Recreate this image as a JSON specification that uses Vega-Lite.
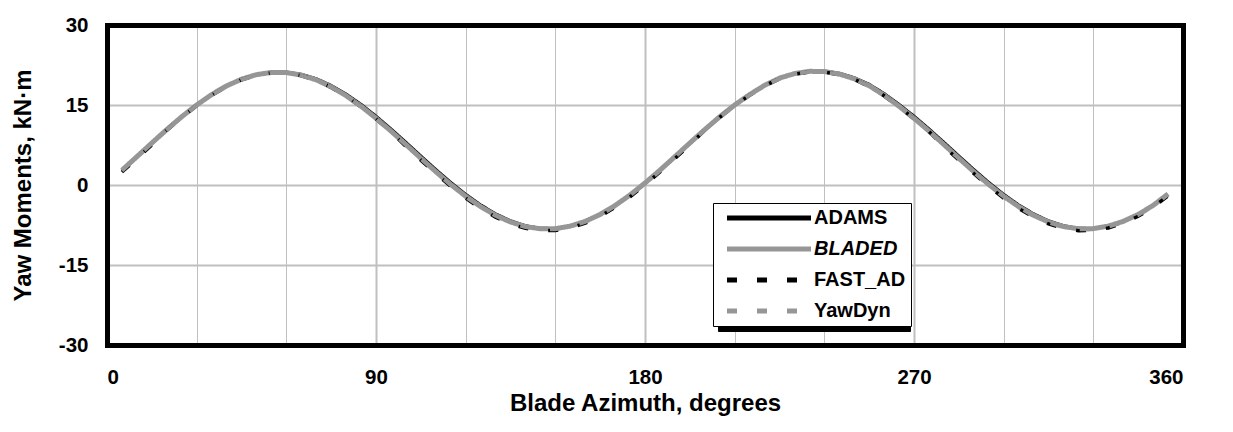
{
  "$schema": "https://vega.github.io/schema/vega-lite/v6.json",
  "width": 1076,
  "height": 320,
  "autosize": {"type": "none"},
  "padding": {"left": 107, "top": 25, "right": 50, "bottom": 87},
  "background": "white",
  "config": {
    "font": "Liberation Sans",
    "view": {"stroke": null},
    "axis": {
      "labelFont": "Liberation Sans", "labelFontWeight": "bold", "labelFontSize": 20.5, "labelColor": "black",
      "titleFont": "Liberation Sans", "titleFontWeight": "bold", "titleFontSize": 24, "titleColor": "black",
      "ticks": false, "gridColor": "#c0c0c0"
    },
    "legend": {
      "labelFont": "Liberation Sans", "labelFontWeight": "bold", "labelFontSize": 20, "labelColor": "black",
      "padding": 5, "rowPadding": 11, "symbolSize": 110.25, "symbolStrokeWidth": 5,
      "symbolOffset": 41, "labelOffset": 35, "strokeWidth": 1
    }
  },
  "resolve": {"axis": {"x": "independent", "y": "independent"}},
  "data": {
    "values": [
      {"az": 5, "ADAMS": 2.55, "BLADED": 2.78, "FAST_AD": 2.43, "YawDyn": 2.68},
      {"az": 10, "ADAMS": 5.06, "BLADED": 5.31, "FAST_AD": 4.96, "YawDyn": 5.21},
      {"az": 15, "ADAMS": 7.63, "BLADED": 7.88, "FAST_AD": 7.53, "YawDyn": 7.78},
      {"az": 20, "ADAMS": 10.16, "BLADED": 10.40, "FAST_AD": 10.30, "YawDyn": 10.30},
      {"az": 25, "ADAMS": 12.58, "BLADED": 12.80, "FAST_AD": 12.70, "YawDyn": 12.70},
      {"az": 30, "ADAMS": 14.82, "BLADED": 15.00, "FAST_AD": 14.90, "YawDyn": 14.90},
      {"az": 35, "ADAMS": 16.81, "BLADED": 16.95, "FAST_AD": 16.85, "YawDyn": 16.85},
      {"az": 40, "ADAMS": 18.49, "BLADED": 18.58, "FAST_AD": 18.48, "YawDyn": 18.48},
      {"az": 45, "ADAMS": 19.81, "BLADED": 19.84, "FAST_AD": 19.74, "YawDyn": 19.74},
      {"az": 50, "ADAMS": 20.73, "BLADED": 20.69, "FAST_AD": 20.59, "YawDyn": 20.59},
      {"az": 55, "ADAMS": 21.22, "BLADED": 21.11, "FAST_AD": 21.01, "YawDyn": 21.01},
      {"az": 60, "ADAMS": 21.26, "BLADED": 21.08, "FAST_AD": 20.98, "YawDyn": 20.98},
      {"az": 65, "ADAMS": 20.86, "BLADED": 20.61, "FAST_AD": 20.51, "YawDyn": 20.51},
      {"az": 70, "ADAMS": 20.03, "BLADED": 19.72, "FAST_AD": 19.62, "YawDyn": 19.62},
      {"az": 75, "ADAMS": 18.79, "BLADED": 18.42, "FAST_AD": 18.32, "YawDyn": 18.32},
      {"az": 80, "ADAMS": 17.17, "BLADED": 16.74, "FAST_AD": 16.64, "YawDyn": 16.64},
      {"az": 85, "ADAMS": 15.24, "BLADED": 14.77, "FAST_AD": 14.67, "YawDyn": 14.67},
      {"az": 90, "ADAMS": 13.04, "BLADED": 12.53, "FAST_AD": 12.43, "YawDyn": 12.43},
      {"az": 95, "ADAMS": 10.65, "BLADED": 10.12, "FAST_AD": 10.02, "YawDyn": 10.02},
      {"az": 100, "ADAMS": 8.14, "BLADED": 7.59, "FAST_AD": 7.24, "YawDyn": 7.49},
      {"az": 105, "ADAMS": 5.57, "BLADED": 5.02, "FAST_AD": 4.67, "YawDyn": 4.92},
      {"az": 110, "ADAMS": 3.04, "BLADED": 2.50, "FAST_AD": 2.15, "YawDyn": 2.40},
      {"az": 115, "ADAMS": 0.62, "BLADED": 0.10, "FAST_AD": -0.25, "YawDyn": 0.00},
      {"az": 120, "ADAMS": -1.62, "BLADED": -2.10, "FAST_AD": -2.45, "YawDyn": -2.20},
      {"az": 125, "ADAMS": -3.61, "BLADED": -4.05, "FAST_AD": -4.40, "YawDyn": -4.15},
      {"az": 130, "ADAMS": -5.29, "BLADED": -5.68, "FAST_AD": -6.03, "YawDyn": -5.78},
      {"az": 135, "ADAMS": -6.61, "BLADED": -6.94, "FAST_AD": -7.29, "YawDyn": -7.04},
      {"az": 140, "ADAMS": -7.53, "BLADED": -7.79, "FAST_AD": -8.14, "YawDyn": -7.89},
      {"az": 145, "ADAMS": -8.02, "BLADED": -8.21, "FAST_AD": -8.56, "YawDyn": -8.31},
      {"az": 150, "ADAMS": -8.06, "BLADED": -8.18, "FAST_AD": -8.53, "YawDyn": -8.28},
      {"az": 155, "ADAMS": -7.66, "BLADED": -7.71, "FAST_AD": -8.06, "YawDyn": -7.81},
      {"az": 160, "ADAMS": -6.83, "BLADED": -6.82, "FAST_AD": -7.17, "YawDyn": -6.92},
      {"az": 165, "ADAMS": -5.59, "BLADED": -5.52, "FAST_AD": -5.87, "YawDyn": -5.62},
      {"az": 170, "ADAMS": -3.97, "BLADED": -3.84, "FAST_AD": -4.19, "YawDyn": -3.94},
      {"az": 175, "ADAMS": -2.04, "BLADED": -1.87, "FAST_AD": -2.22, "YawDyn": -1.97},
      {"az": 180, "ADAMS": 0.16, "BLADED": 0.37, "FAST_AD": 0.02, "YawDyn": 0.27},
      {"az": 185, "ADAMS": 2.55, "BLADED": 2.78, "FAST_AD": 2.43, "YawDyn": 2.68},
      {"az": 190, "ADAMS": 5.06, "BLADED": 5.31, "FAST_AD": 4.96, "YawDyn": 5.21},
      {"az": 195, "ADAMS": 7.63, "BLADED": 7.88, "FAST_AD": 7.53, "YawDyn": 7.78},
      {"az": 200, "ADAMS": 10.16, "BLADED": 10.40, "FAST_AD": 10.30, "YawDyn": 10.30},
      {"az": 205, "ADAMS": 12.58, "BLADED": 12.80, "FAST_AD": 12.70, "YawDyn": 12.70},
      {"az": 210, "ADAMS": 14.82, "BLADED": 15.00, "FAST_AD": 14.90, "YawDyn": 14.90},
      {"az": 215, "ADAMS": 16.81, "BLADED": 16.95, "FAST_AD": 16.85, "YawDyn": 16.85},
      {"az": 220, "ADAMS": 18.59, "BLADED": 18.68, "FAST_AD": 18.58, "YawDyn": 18.58},
      {"az": 225, "ADAMS": 20.01, "BLADED": 20.04, "FAST_AD": 19.94, "YawDyn": 19.94},
      {"az": 230, "ADAMS": 20.93, "BLADED": 20.89, "FAST_AD": 20.79, "YawDyn": 20.79},
      {"az": 235, "ADAMS": 21.42, "BLADED": 21.31, "FAST_AD": 21.21, "YawDyn": 21.21},
      {"az": 240, "ADAMS": 21.46, "BLADED": 21.28, "FAST_AD": 21.18, "YawDyn": 21.18},
      {"az": 245, "ADAMS": 21.06, "BLADED": 20.81, "FAST_AD": 20.71, "YawDyn": 20.71},
      {"az": 250, "ADAMS": 20.23, "BLADED": 19.92, "FAST_AD": 19.82, "YawDyn": 19.82},
      {"az": 255, "ADAMS": 18.99, "BLADED": 18.62, "FAST_AD": 18.52, "YawDyn": 18.52},
      {"az": 260, "ADAMS": 17.27, "BLADED": 16.84, "FAST_AD": 16.74, "YawDyn": 16.74},
      {"az": 265, "ADAMS": 15.24, "BLADED": 14.77, "FAST_AD": 14.67, "YawDyn": 14.67},
      {"az": 270, "ADAMS": 13.04, "BLADED": 12.53, "FAST_AD": 12.43, "YawDyn": 12.43},
      {"az": 275, "ADAMS": 10.65, "BLADED": 10.12, "FAST_AD": 10.02, "YawDyn": 10.02},
      {"az": 280, "ADAMS": 8.14, "BLADED": 7.59, "FAST_AD": 7.24, "YawDyn": 7.49},
      {"az": 285, "ADAMS": 5.57, "BLADED": 5.02, "FAST_AD": 4.67, "YawDyn": 4.92},
      {"az": 290, "ADAMS": 3.04, "BLADED": 2.50, "FAST_AD": 2.15, "YawDyn": 2.40},
      {"az": 295, "ADAMS": 0.62, "BLADED": 0.10, "FAST_AD": -0.25, "YawDyn": 0.00},
      {"az": 300, "ADAMS": -1.62, "BLADED": -2.10, "FAST_AD": -2.45, "YawDyn": -2.20},
      {"az": 305, "ADAMS": -3.61, "BLADED": -4.05, "FAST_AD": -4.40, "YawDyn": -4.15},
      {"az": 310, "ADAMS": -5.29, "BLADED": -5.68, "FAST_AD": -6.03, "YawDyn": -5.78},
      {"az": 315, "ADAMS": -6.61, "BLADED": -6.94, "FAST_AD": -7.29, "YawDyn": -7.04},
      {"az": 320, "ADAMS": -7.53, "BLADED": -7.79, "FAST_AD": -8.14, "YawDyn": -7.89},
      {"az": 325, "ADAMS": -8.02, "BLADED": -8.21, "FAST_AD": -8.56, "YawDyn": -8.31},
      {"az": 330, "ADAMS": -8.06, "BLADED": -8.18, "FAST_AD": -8.53, "YawDyn": -8.28},
      {"az": 335, "ADAMS": -7.66, "BLADED": -7.71, "FAST_AD": -8.06, "YawDyn": -7.81},
      {"az": 340, "ADAMS": -6.83, "BLADED": -6.82, "FAST_AD": -7.17, "YawDyn": -6.92},
      {"az": 345, "ADAMS": -5.59, "BLADED": -5.52, "FAST_AD": -5.87, "YawDyn": -5.62},
      {"az": 350, "ADAMS": -3.97, "BLADED": -3.84, "FAST_AD": -4.19, "YawDyn": -3.94},
      {"az": 355, "ADAMS": -1.84, "BLADED": -1.67, "FAST_AD": -2.02, "YawDyn": -1.77}
    ]
  },
  "layer": [
    {
      "transform": [
        {"fold": ["ADAMS", "BLADED", "FAST_AD", "YawDyn"], "as": ["series", "moment"]},
        {"filter": "datum.series === 'ADAMS'"}
      ],
      "mark": {"type": "line", "clip": true, "strokeWidth": 2},
      "encoding": {
        "x": {
          "field": "az", "type": "quantitative",
          "scale": {"domain": [0, 360], "nice": false, "zero": false},
          "axis": {
            "title": "Blade Azimuth, degrees",
            "orient": "bottom",
            "values": [0, 30, 60, 90, 120, 150, 180, 210, 240, 270, 300, 330, 360],
            "labelExpr": "datum.value % 90 === 0 ? datum.label : ''",
            "gridWidth": {"condition": {"test": "datum.value % 90 === 0", "value": 2}, "value": 1},
            "gridOpacity": {"condition": {"test": "datum.value === 0 || datum.value === 360", "value": 0}, "value": 1},
            "domain": true, "domainColor": "black", "domainWidth": 5, "domainCap": "square",
            "labelPadding": 22,
            "titlePadding": 4
          }
        },
        "y": {
          "field": "moment", "type": "quantitative",
          "scale": {"domain": [-30, 30], "nice": false},
          "axis": {
            "title": "Yaw Moments, kN·m",
            "orient": "left",
            "values": [-30, -15, 0, 15, 30],
            "labelExpr": "datum.value < 0 ? '-' + abs(datum.value) : datum.label",
            "gridWidth": 2,
            "gridOpacity": {"condition": {"test": "datum.value === 30 || datum.value === -30", "value": 0}, "value": 1},
            "domain": true, "domainColor": "black", "domainWidth": 5, "domainCap": "square",
            "labelPadding": 19,
            "titleX": -72
          }
        },
        "color": {
          "field": "series", "type": "nominal",
          "scale": {"domain": ["ADAMS", "BLADED", "FAST_AD", "YawDyn"], "range": ["#000000", "#969696", "#000000", "#969696"]},
          "legend": {
            "title": null, "orient": "none", "legendX": 606, "legendY": 178,
            "symbolType": "M-8,0H8", "fillColor": "white", "strokeColor": "black", "zindex": 2,
            "encode": {
              "labels": {"update": {"fontStyle": {"signal": "datum.value === 'BLADED' ? 'italic' : 'normal'"}}},
              "symbols": {"update": {"strokeWidth": {"value": 5}}}
            }
          }
        },
        "strokeDash": {
          "field": "series", "type": "nominal",
          "scale": {"domain": ["ADAMS", "BLADED", "FAST_AD", "YawDyn"], "range": [[1, 0], [1, 0], [10, 20], [10, 20]]},
          "legend": {"title": null, "orient": "none", "legendX": 606, "legendY": 178, "symbolType": "M-8,0H8", "zindex": 2}
        }
      }
    },
    {
      "transform": [
        {"fold": ["ADAMS", "BLADED", "FAST_AD", "YawDyn"], "as": ["series", "moment"]},
        {"filter": "datum.series === 'BLADED'"}
      ],
      "mark": {"type": "line", "clip": true, "strokeWidth": 5},
      "encoding": {
        "x": {"field": "az", "type": "quantitative", "axis": null},
        "y": {"field": "moment", "type": "quantitative", "axis": null},
        "color": {"field": "series", "type": "nominal"},
        "strokeDash": {"field": "series", "type": "nominal"}
      }
    },
    {
      "transform": [
        {"fold": ["ADAMS", "BLADED", "FAST_AD", "YawDyn"], "as": ["series", "moment"]},
        {"filter": "datum.series === 'FAST_AD'"}
      ],
      "mark": {"type": "line", "clip": true, "strokeWidth": 3.5},
      "encoding": {
        "x": {"field": "az", "type": "quantitative", "axis": null},
        "y": {"field": "moment", "type": "quantitative", "axis": null},
        "color": {"field": "series", "type": "nominal"},
        "strokeDash": {"field": "series", "type": "nominal"}
      }
    },
    {
      "transform": [
        {"fold": ["ADAMS", "BLADED", "FAST_AD", "YawDyn"], "as": ["series", "moment"]},
        {"filter": "datum.series === 'YawDyn'"}
      ],
      "mark": {"type": "line", "clip": true, "strokeWidth": 4},
      "encoding": {
        "x": {"field": "az", "type": "quantitative", "axis": null},
        "y": {"field": "moment", "type": "quantitative", "axis": null},
        "color": {"field": "series", "type": "nominal"},
        "strokeDash": {"field": "series", "type": "nominal"}
      }
    },
    {
      "transform": [{"fold": ["ADAMS", "BLADED", "FAST_AD", "YawDyn"], "as": ["series_shadow", "moment"]}],
      "mark": {"type": "point", "opacity": 0},
      "encoding": {
        "x": {
          "field": "az", "type": "quantitative",
          "axis": {"orient": "top", "title": null, "labels": false, "grid": false, "ticks": false, "zindex": 1,
                   "domain": true, "domainColor": "black", "domainWidth": 5, "domainCap": "square"}
        },
        "y": {
          "field": "moment", "type": "quantitative",
          "axis": {"orient": "right", "title": null, "labels": false, "grid": false, "ticks": false, "zindex": 1,
                   "domain": true, "domainColor": "black", "domainWidth": 5, "domainCap": "square"}
        },
        "shape": {
          "field": "series_shadow", "type": "nominal",
          "scale": {"range": ["M-8,0H8", "M-8,0H8", "M-8,0H8", "M-8,0H8"]},
          "legend": {
            "title": null, "orient": "none", "legendX": 611, "legendY": 183,
            "symbolType": "M-8,0H8", "fillColor": "black", "strokeColor": "black", "zindex": 1,
            "symbolOpacity": 0, "labelOpacity": 0,
            "labelExpr": "' '", "labelOffset": 121,
            "encode": {
              "symbols": {"update": {"strokeWidth": {"value": 5}}}
            }
          }
        }
      }
    }
  ]
}
